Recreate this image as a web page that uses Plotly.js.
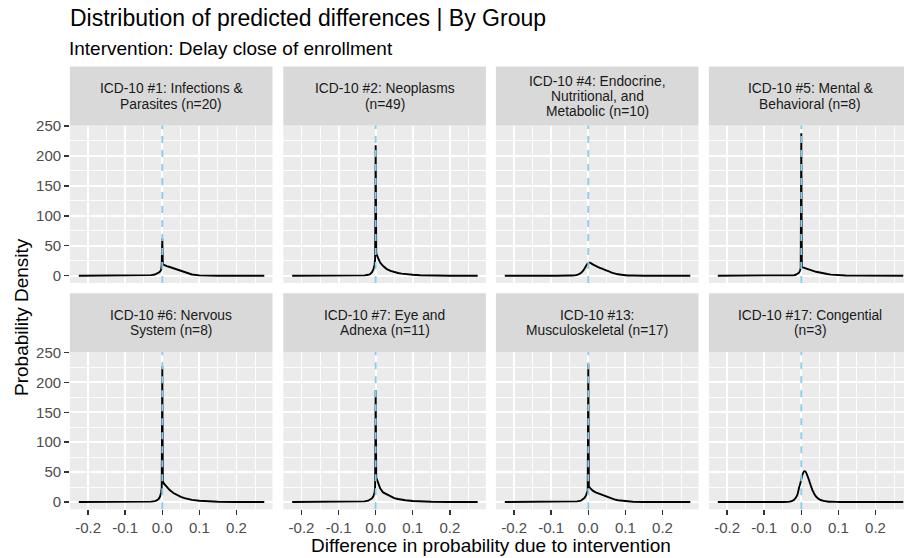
<!DOCTYPE html>
<html><head><meta charset="utf-8">
<script src="https://cdn.plot.ly/plotly-3.0.1.min.js"></script>
<style>html,body{margin:0;padding:0;background:#fff}#chart{width:904px;height:558px}</style>
</head><body><div id="chart"></div>
<script>
// shared x grid (difference in probability)
const xGrid = [-0.225,-0.1,-0.05,-0.03,-0.02,-0.015,-0.01,-0.006,-0.003,-0.0015,0,0.0015,0.004,0.008,0.012,0.02,0.03,0.04,0.05,0.06,0.07,0.08,0.1,0.12,0.15,0.2,0.275];
// density values
const yInfections   = [0,0,0.3,1,2,3,5,7,10,18,62,19,18,17,16,14.5,12.5,10,7.5,5.5,3.5,2,0.6,0.2,0,0,0];
const yNeoplasms    = [0,0,0.2,0.6,1.5,2.5,6,11,18,28,218,38,33,27,22,16,11,8,6,4.5,3.5,2.6,1.5,0.8,0.3,0,0];
const yEndocrine    = [0,0,0.2,1.5,4.5,7.5,12,16,19,20.5,21.5,21.8,21.7,20.5,19,16.5,13.5,11,8.5,6,4,2.5,0.8,0.2,0,0,0];
const yMental       = [0,0,0.1,0.4,0.8,1.5,3,5,9,13,238,15,14,13,12,10.5,8.5,6.5,5,3.8,2.8,1.8,0.8,0.3,0.1,0,0];
const yNervous      = [0,0,0.2,0.7,1.5,2.5,5,9,16,24,227,35,31,28,25,20,15,11,8.5,6.5,4.8,3.5,2,1,0.4,0.1,0];
const yEye          = [0,0,0.3,1,2.2,3.5,6,10,16,24,187,41,36,29,23,16,13,9.5,6.5,5,3.8,3,1.8,1,0.4,0.1,0];
const yMusculo      = [0,0,0.3,1,2.2,4,7,11,15,19,231,26,24,21,19,16,13.5,11.5,9,6.5,4.5,3,1.1,0.4,0.1,0,0];
const yCongenital   = [0,0,0,0.6,3.3,7,13,24,30,34,38,42,47,51.5,50.5,38,20,9,4,1.8,0.8,0.3,0.1,0,0,0,0];

const panelY = [yInfections, yNeoplasms, yEndocrine, yMental, yNervous, yEye, yMusculo, yCongenital];
const panelSmooth = [false,false,true,false,false,false,false,true];
const stripLabels = [
  ["ICD-10 #1: Infections &","Parasites (n=20)"],
  ["ICD-10 #2: Neoplasms","(n=49)"],
  ["ICD-10 #4: Endocrine,","Nutritional, and","Metabolic (n=10)"],
  ["ICD-10 #5: Mental &","Behavioral (n=8)"],
  ["ICD-10 #6: Nervous","System (n=8)"],
  ["ICD-10 #7: Eye and","Adnexa (n=11)"],
  ["ICD-10 #13:","Musculoskeletal (n=17)"],
  ["ICD-10 #17: Congential","(n=3)"]
];
const xTickVals = [-0.2,-0.1,0,0.1,0.2];
const xTickText = ["-0.2","-0.1","0.0","0.1","0.2"];
const yTickVals = [0,50,100,150,200,250];
const titleText = "Distribution of predicted differences | By Group";
const subtitleText = "Intervention: Delay close of enrollment";
const xTitle = "Difference in probability due to intervention";
const yTitle = "Probability Density";
const refLine = 0;

const W = 904, H = 558;
const FONT = "Liberation Sans, Arial, sans-serif";
// pixel geometry
const cols = [[69.9,272.5],[283.3,485.9],[495.9,698.5],[708.9,904]];
const colCenters = [171.2,384.6,597.2,810];
const rows = [{top:125.5,bottom:283,stripTop:66.5},{top:352,bottom:509.3,stripTop:293.3}];
const pxPerUnit = 371;
const xMin = -0.249;
const yRange = [-12.2,250.8];

const px = v => v / W;
const py = v => 1 - v / H;

const traces = [];
const layout = {
  width: W, height: H,
  margin: {l:0,r:0,t:0,b:0},
  paper_bgcolor: "#FFFFFF",
  plot_bgcolor: "#EBEBEB",
  showlegend: false,
  font: {family: FONT, color: "#1A1A1A"},
  title: {text: titleText, x: px(70), xref: "paper", xanchor: "left", y: py(17.5), yref: "paper", yanchor: "middle",
          font: {size: 23, color: "#000000", family: FONT}},
  shapes: [], annotations: []
};

for (let i = 0; i < 8; i++) {
  const r = Math.floor(i / 4), c = i % 4;
  const n = i + 1;
  const xa = "xaxis" + (n === 1 ? "" : n), ya = "yaxis" + (n === 1 ? "" : n);
  const xr = "x" + (n === 1 ? "" : n), yr = "y" + (n === 1 ? "" : n);
  const [l, rr] = cols[c];
  const xMax = xMin + (rr - l) / pxPerUnit;
  traces.push({
    x: xGrid, y: panelY[i], xaxis: xr, yaxis: yr, type: "scatter", mode: "lines",
    line: {color: "#000000", width: 1.9, shape: panelSmooth[i] ? "spline" : "linear", smoothing: 0.6},
    hoverinfo: "skip"
  });
  const bottomRow = r === 1, leftCol = c === 0;
  layout[xa] = {
    domain: [px(l), px(rr)], anchor: yr, range: [xMin, xMax],
    tickmode: "array", tickvals: xTickVals, ticktext: xTickText,
    showticklabels: bottomRow, ticks: bottomRow ? "outside" : "", ticklen: 4.8, tickwidth: 1.4, tickcolor: "#333333",
    tickfont: {size: 15, color: "#4D4D4D", family: FONT},
    showgrid: true, gridcolor: "#FFFFFF", gridwidth: 1.85,
    minor: {tickmode: "linear", tick0: 0, dtick: 0.05, showgrid: true, gridcolor: "#FFFFFF", gridwidth: 0.9},
    zeroline: false, showline: false, fixedrange: true
  };
  layout[ya] = {
    domain: [py(rows[r].bottom), py(rows[r].top)], anchor: xr, range: yRange,
    tickmode: "array", tickvals: yTickVals,
    showticklabels: leftCol, ticks: leftCol ? "outside" : "", ticklen: 4.8, tickwidth: 1.4, tickcolor: "#333333",
    tickfont: {size: 15, color: "#4D4D4D", family: FONT},
    showgrid: true, gridcolor: "#FFFFFF", gridwidth: 1.85,
    minor: {tickmode: "linear", tick0: 0, dtick: 25, showgrid: true, gridcolor: "#FFFFFF", gridwidth: 0.9},
    zeroline: false, showline: false, fixedrange: true
  };
  // reference line at 0
  layout.shapes.push({
    type: "line", xref: xr, yref: yr + " domain", x0: refLine, x1: refLine, y0: 0, y1: 1,
    line: {color: "#87CEEB", width: 1.9, dash: "7px,7px"}, layer: "above"
  });
  // strip background
  layout.shapes.push({
    type: "rect", xref: "paper", yref: "paper", x0: px(l), x1: px(rr),
    y0: py(rows[r].top), y1: py(rows[r].stripTop),
    fillcolor: "#D9D9D9", line: {width: 0}, layer: "below"
  });
  const lines = stripLabels[i];
  const mid = (rows[r].top + rows[r].stripTop) / 2 + 0.5;
  const sp = 15.2;
  lines.forEach((t, k) => {
    const yc = mid + (k - (lines.length - 1) / 2) * sp;
    layout.annotations.push({
      text: t, xref: "paper", yref: "paper", x: px(colCenters[c]), y: py(yc),
      xanchor: "center", yanchor: "middle", showarrow: false,
      font: {size: 13.8, color: "#1A1A1A", family: FONT}
    });
  });
}

layout.annotations.push({
  text: subtitleText, xref: "paper", yref: "paper", x: px(67), y: py(48), xanchor: "left", yanchor: "middle",
  showarrow: false, font: {size: 19, color: "#000000", family: FONT}
});
layout.annotations.push({
  text: xTitle, xref: "paper", yref: "paper", x: px(490.5), y: py(545), xanchor: "center", yanchor: "middle",
  showarrow: false, font: {size: 19, color: "#000000", family: FONT}
});
layout.annotations.push({
  text: yTitle, xref: "paper", yref: "paper", x: px(21), y: py(317), xanchor: "center", yanchor: "middle",
  textangle: -90, showarrow: false, font: {size: 19, color: "#000000", family: FONT}
});

Plotly.newPlot("chart", traces, layout, {staticPlot: true, displayModeBar: false});
</script>
</body></html>
